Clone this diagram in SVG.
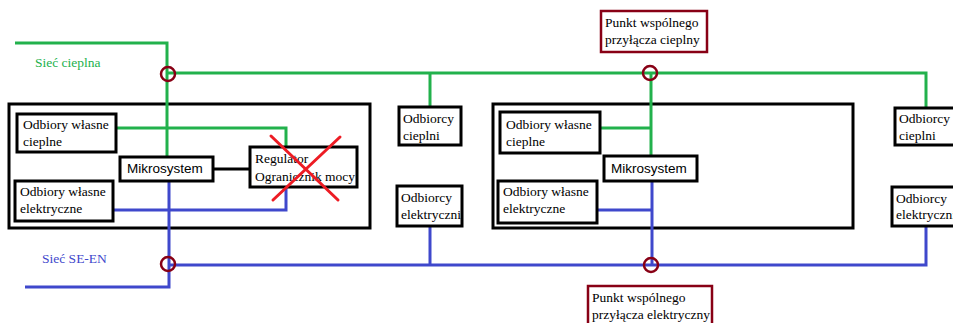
<svg xmlns="http://www.w3.org/2000/svg" width="953" height="323" viewBox="0 0 953 323">
  <style>
    .box { fill: #ffffff; stroke: #000000; stroke-width: 3; }
    .frame { fill: none; stroke: #000000; stroke-width: 3; }
    .pcc { fill: #ffffff; stroke: #880015; stroke-width: 2.5; }
    .node-ring { fill: none; stroke: #880015; stroke-width: 2.5; }
    .heat { fill: none; stroke: #22B14C; stroke-width: 3; }
    .power { fill: none; stroke: #3F48CC; stroke-width: 3; }
    .link { fill: none; stroke: #000000; stroke-width: 3; }
    .cross { stroke: #ED1C24; stroke-width: 3; stroke-linecap: round; }
    .t { font-family: "Liberation Serif", "Times New Roman", serif; font-size: 13.5px; fill: #000000; }
    .s { font-family: "Liberation Sans", Arial, sans-serif; font-size: 13.5px; fill: #000000; }
  </style>

  <rect width="953" height="323" fill="#ffffff"/>

  <!-- outer frames of the two sites -->
  <g id="site-left">
    <rect class="frame" x="9" y="104" width="361" height="124"/>
  </g>
  <g id="site-right">
    <rect class="frame" x="493" y="104" width="360" height="124"/>
  </g>

  <!-- connectors -->
  <g id="connectors">
    <!-- heat network -->
    <polyline class="heat" points="15,43 167,43 167,157"/>
    <polyline class="heat" points="167,73 926,73 926,108"/>
    <line class="heat" x1="430" y1="73" x2="430" y2="107"/>
    <line class="heat" x1="651" y1="73" x2="651" y2="156"/>
    <polyline class="heat" points="117,128 286,128 286,147"/>
    <line class="heat" x1="600" y1="128" x2="651" y2="128"/>

    <!-- power network -->
    <polyline class="power" points="25,287 169,287 169,181"/>
    <polyline class="power" points="169,265 926,265 926,226"/>
    <line class="power" x1="430" y1="226" x2="430" y2="265"/>
    <line class="power" x1="652" y1="181" x2="652" y2="265"/>
    <polyline class="power" points="113,210 286,210 286,187"/>
    <line class="power" x1="597" y1="210" x2="652" y2="210"/>

    <!-- microsystem to regulator -->
    <line class="link" x1="213" y1="169" x2="250" y2="169"/>

    <!-- points of common coupling -->
    <circle class="node-ring" cx="168" cy="74" r="7"/>
    <circle class="node-ring" cx="650" cy="73" r="7"/>
    <circle class="node-ring" cx="168" cy="264" r="7"/>
    <circle class="node-ring" cx="651" cy="265" r="7"/>
  </g>

  <!-- network labels -->
  <g id="label-heat">
    <text x="35" y="67" class="t" style="fill:#22B14C">Sieć cieplna</text>
  </g>
  <g id="label-power">
    <text x="42" y="263" class="t" style="fill:#3F48CC">Sieć SE-EN</text>
  </g>

  <!-- left site -->
  <g id="own-heat-left">
    <rect class="box" x="17" y="114" width="99" height="38"/>
    <text x="23" y="129" class="t">Odbiory własne</text>
    <text x="23" y="146" class="t">cieplne</text>
  </g>
  <g id="own-power-left">
    <rect class="box" x="15" y="181" width="98" height="40"/>
    <text x="20" y="196" class="t">Odbiory własne</text>
    <text x="20" y="213" class="t">elektryczne</text>
  </g>
  <g id="micro-left">
    <rect class="box" x="120" y="157" width="93" height="24"/>
    <text x="127" y="173" class="s">Mikrosystem</text>
  </g>
  <g id="regulator">
    <rect class="box" x="250" y="147" width="107" height="40"/>
    <text x="255" y="163" class="t">Regulator</text>
    <text x="255" y="181" class="t">Ogranicznik mocy</text>
    <line class="cross" x1="271" y1="136" x2="338" y2="200"/>
    <line class="cross" x1="340" y1="137" x2="273" y2="200"/>
  </g>

  <!-- middle consumers -->
  <g id="heat-consumers-mid">
    <rect class="box" x="399" y="107" width="62" height="38"/>
    <text x="403" y="123" class="t">Odbiorcy</text>
    <text x="403" y="140" class="t">cieplni</text>
  </g>
  <g id="power-consumers-mid">
    <rect class="box" x="397" y="186" width="65" height="40"/>
    <text x="401" y="202" class="t">Odbiorcy</text>
    <text x="401" y="219" class="t">elektryczni</text>
  </g>

  <!-- right site -->
  <g id="own-heat-right">
    <rect class="box" x="500" y="112" width="100" height="41"/>
    <text x="506" y="129" class="t">Odbiory własne</text>
    <text x="506" y="146" class="t">cieplne</text>
  </g>
  <g id="own-power-right">
    <rect class="box" x="498" y="181" width="99" height="42"/>
    <text x="503" y="196" class="t">Odbiory własne</text>
    <text x="503" y="213" class="t">elektryczne</text>
  </g>
  <g id="micro-right">
    <rect class="box" x="604" y="156" width="93" height="25"/>
    <text x="611" y="173" class="s">Mikrosystem</text>
  </g>

  <!-- far right consumers -->
  <g id="heat-consumers-right">
    <rect class="box" x="895" y="108" width="70" height="37"/>
    <text x="899" y="123" class="t">Odbiorcy</text>
    <text x="899" y="140" class="t">cieplni</text>
  </g>
  <g id="power-consumers-right">
    <rect class="box" x="892" y="187" width="72" height="39"/>
    <text x="896" y="203" class="t">Odbiorcy</text>
    <text x="896" y="219" class="t">elektryczni</text>
  </g>

  <!-- common coupling point captions -->
  <g id="pcc-heat">
    <rect class="pcc" x="601" y="11" width="106" height="41"/>
    <text x="605" y="27" class="t">Punkt wspólnego</text>
    <text x="605" y="44" class="t">przyłącza cieplny</text>
  </g>
  <g id="pcc-power">
    <rect class="pcc" x="588" y="286" width="124" height="45"/>
    <text x="592" y="302" class="t">Punkt wspólnego</text>
    <text x="592" y="319" class="t">przyłącza elektryczny</text>
  </g>
</svg>
